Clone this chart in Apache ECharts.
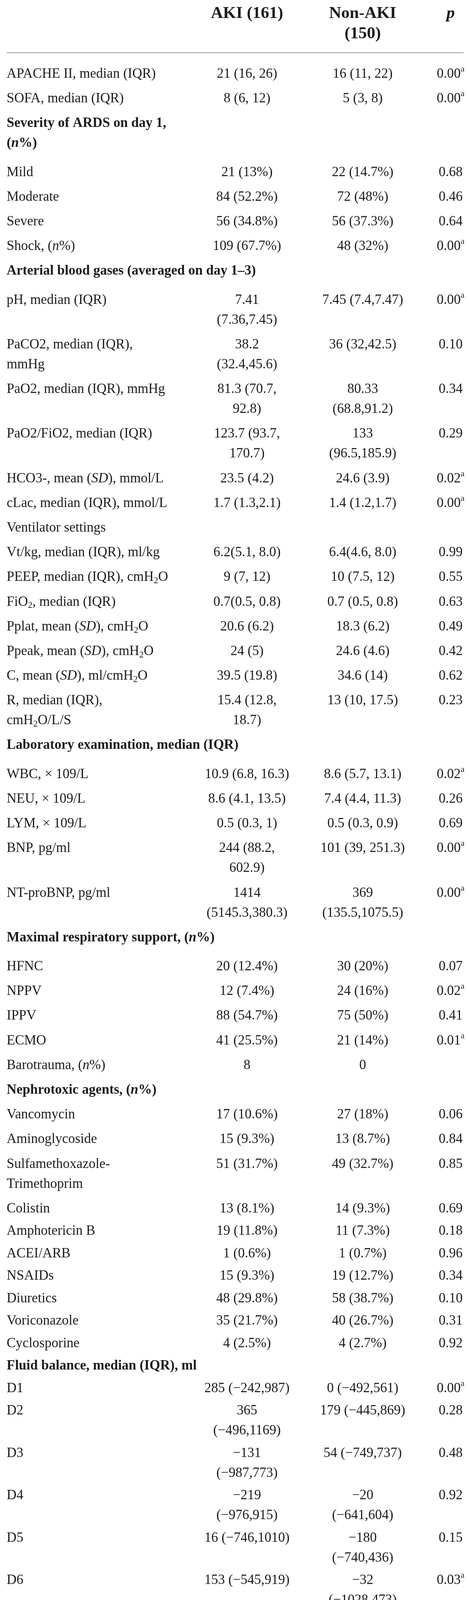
<!DOCTYPE html>
<html>
<head>
<meta charset="utf-8">
<title>AKI vs Non-AKI</title>
<script src="https://cdn.jsdelivr.net/npm/echarts@6/dist/echarts.min.js"></script>
<style>
html, body { margin: 0; padding: 0; background: #fff; }
#chart { width: 1200px; height: 4841px; }
</style>
</head>
<body>
<div id="chart"></div>
<script>
// markup in strings: *x* italic, ^a superscript, _2 subscript, ~a italic superscript
var headers = ['', 'AKI (161)', 'Non-AKI\n(150)', '*p*'];

var variables = [
    'APACHE II, median (IQR)',
    'SOFA, median (IQR)',
    'Severity of ARDS on day 1,\n(*n*%)',
    'Mild',
    'Moderate',
    'Severe',
    'Shock, (*n*%)',
    'Arterial blood gases (averaged on day 1–3)',
    'pH, median (IQR)',
    'PaCO2, median (IQR),\nmmHg',
    'PaO2, median (IQR), mmHg',
    'PaO2/FiO2, median (IQR)',
    'HCO3-, mean (*SD*), mmol/L',
    'cLac, median (IQR), mmol/L',
    'Ventilator settings',
    'Vt/kg, median (IQR), ml/kg',
    'PEEP, median (IQR), cmH_2O',
    'FiO_2, median (IQR)',
    'Pplat, mean (*SD*), cmH_2O',
    'Ppeak, mean (*SD*), cmH_2O',
    'C, mean (*SD*), ml/cmH_2O',
    'R, median (IQR),\ncmH_2O/L/S',
    'Laboratory examination, median (IQR)',
    'WBC, × 109/L',
    'NEU, × 109/L',
    'LYM, × 109/L',
    'BNP, pg/ml',
    'NT-proBNP, pg/ml',
    'Maximal respiratory support, (*n*%)',
    'HFNC',
    'NPPV',
    'IPPV',
    'ECMO',
    'Barotrauma, (*n*%)',
    'Nephrotoxic agents, (*n*%)',
    'Vancomycin',
    'Aminoglycoside',
    'Sulfamethoxazole-\nTrimethoprim',
    'Colistin',
    'Amphotericin B',
    'ACEI/ARB',
    'NSAIDs',
    'Diuretics',
    'Voriconazole',
    'Cyclosporine',
    'Fluid balance, median (IQR), ml',
    'D1', 'D2', 'D3', 'D4', 'D5', 'D6', 'D7',
    'CRRT, (*n*%)',
    'Onset of CRRT, days,\nmedian(IQR)'
];

var sectionTitles = [
    'Severity of ARDS on day 1,\n(*n*%)',
    'Arterial blood gases (averaged on day 1–3)',
    'Laboratory examination, median (IQR)',
    'Maximal respiratory support, (*n*%)',
    'Nephrotoxic agents, (*n*%)',
    'Fluid balance, median (IQR), ml'
];

var akiValues = [
    '21 (16, 26)', '8 (6, 12)', '', '21 (13%)', '84 (52.2%)', '56 (34.8%)', '109 (67.7%)', '',
    '7.41\n(7.36,7.45)', '38.2\n(32.4,45.6)', '81.3 (70.7,\n92.8)', '123.7 (93.7,\n170.7)',
    '23.5 (4.2)', '1.7 (1.3,2.1)', '',
    '6.2(5.1, 8.0)', '9 (7, 12)', '0.7(0.5, 0.8)', '20.6 (6.2)', '24 (5)', '39.5 (19.8)',
    '15.4 (12.8,\n18.7)', '',
    '10.9 (6.8, 16.3)', '8.6 (4.1, 13.5)', '0.5 (0.3, 1)', '244 (88.2,\n602.9)', '1414\n(5145.3,380.3)', '',
    '20 (12.4%)', '12 (7.4%)', '88 (54.7%)', '41 (25.5%)', '8', '',
    '17 (10.6%)', '15 (9.3%)', '51 (31.7%)', '13 (8.1%)', '19 (11.8%)', '1 (0.6%)', '15 (9.3%)',
    '48 (29.8%)', '35 (21.7%)', '4 (2.5%)', '',
    '285 (−242,987)', '365\n(−496,1169)', '−131\n(−987,773)', '−219\n(−976,915)',
    '16 (−746,1010)', '153 (−545,919)', '−20\n(−619,796)',
    '38 (23.6%)', '1(0,2.3)'
];

var nonAkiValues = [
    '16 (11, 22)', '5 (3, 8)', '', '22 (14.7%)', '72 (48%)', '56 (37.3%)', '48 (32%)', '',
    '7.45 (7.4,7.47)', '36 (32,42.5)', '80.33\n(68.8,91.2)', '133\n(96.5,185.9)',
    '24.6 (3.9)', '1.4 (1.2,1.7)', '',
    '6.4(4.6, 8.0)', '10 (7.5, 12)', '0.7 (0.5, 0.8)', '18.3 (6.2)', '24.6 (4.6)', '34.6 (14)',
    '13 (10, 17.5)', '',
    '8.6 (5.7, 13.1)', '7.4 (4.4, 11.3)', '0.5 (0.3, 0.9)', '101 (39, 251.3)', '369\n(135.5,1075.5)', '',
    '30 (20%)', '24 (16%)', '75 (50%)', '21 (14%)', '0', '',
    '27 (18%)', '13 (8.7%)', '49 (32.7%)', '14 (9.3%)', '11 (7.3%)', '1 (0.7%)', '19 (12.7%)',
    '58 (38.7%)', '40 (26.7%)', '4 (2.7%)', '',
    '0 (−492,561)', '179 (−445,869)', '54 (−749,737)', '−20\n(−641,604)',
    '−180\n(−740,436)', '−32\n(−1028,473)', '−95\n(−792,600)',
    '7 (4.6%)', '3(1,6)'
];

var pValues = [
    '0.00^a', '0.00^a', '', '0.68', '0.46', '0.64', '0.00^a', '',
    '0.00^a', '0.10', '0.34', '0.29', '0.02^a', '0.00^a', '',
    '0.99', '0.55', '0.63', '0.49', '0.42', '0.62', '0.23', '',
    '0.02^a', '0.26', '0.69', '0.00^a', '0.00^a', '',
    '0.07', '0.02^a', '0.41', '0.01^a', '', '',
    '0.06', '0.84', '0.85', '0.69', '0.18', '0.96', '0.34', '0.10', '0.31', '0.92', '',
    '0.00^a', '0.28', '0.48', '0.92', '0.15', '0.03^a', '0.15',
    '0.00^a', '0.06'
];

var notes = [
    'APACHE, acute physiology, age, chronic health evaluation; SOFA, sequential organ',
    'failure assessment; VT, tidal volume; PEEP, positive end- expiratory pressure;',
    'Pplat, plateau pressure values; Ppeak, peak inspiratory pressure; C, compliance; R,',
    'resistance; HFNC, high flow nasal cannula; IPPV, invasive positive pressure ventilation;',
    'NPPV, non- invasive positive pressure ventilation; EMCO, extracorporeal membrane',
    'oxygenation; ACEI, angiotensin-converting enzyme inhibitors; ARB, angiotensin',
    'receptor blocker; NSAIDs, non-steroidal antiinflammatory drugs; CRRT, continuous',
    'renal replacement therapy.',
    '~a*p* < 0.05.'
];

// layout
var FAMILY = '"Liberation Serif", "Times New Roman", serif';
var INK = '#1c1c1c';
var RULE = '#9c9c9c';
var BODY = 35, HEAD = 43, NOTE = 33;
var LINE = 51, HEAD_LINE = 52, NOTE_LINE = 45.4;
var colX = [17, 632, 928, 1153];
var HEAD_Y = 35, TOP_RULE = 135, FIRST_ROW_Y = 190;
var PITCH_UPPER = 63.2, PITCH_LOWER = 57.5, HEADING_EXTRA = 11;
var LABEL_COL_WIDTH = 440;
var NOTE_LEFT = 19, NOTE_RIGHT = 1190;
var RULE_LEFT = 17, RULE_RIGHT = 1186;

var measureCtx = document.createElement('canvas').getContext('2d');
function textWidth(s, size, weight) {
    measureCtx.font = (weight || 'normal') + ' ' + size + 'px ' + FAMILY;
    return measureCtx.measureText(s.replace(/[*^_~]/g, '')).width;
}

function richStyles(size, weight) {
    return {
        r: { fontSize: size, fontFamily: FAMILY, fontWeight: weight, fill: INK },
        i: { fontSize: size, fontFamily: FAMILY, fontWeight: weight, fontStyle: 'italic', fill: INK },
        sup: { fontSize: Math.round(size * 0.63), fontFamily: FAMILY, fill: INK, padding: [0, 0, Math.round(size * 0.72), 0] },
        supi: { fontSize: Math.round(size * 0.62), fontFamily: FAMILY, fontStyle: 'italic', fill: INK, padding: [0, 0, Math.round(size * 0.62), 0] },
        sub: { fontSize: Math.round(size * 0.65), fontFamily: FAMILY, fill: INK, padding: [Math.round(size * 0.5), 0, 0, 0] }
    };
}
var richBody = richStyles(BODY, 'normal');
var richBold = richStyles(BODY, 'bold');
var richHead = richStyles(HEAD, 'bold');
var richNote = richStyles(NOTE, 'normal');

function toRich(s) {
    var out = '';
    s.split(/(\*[^*]+\*|\^.|_.|~.)/).forEach(function (part) {
        if (!part) return;
        var ch = part.charAt(0);
        if (ch === '*' && part.length > 2) out += '{i|' + part.slice(1, -1) + '}';
        else if (ch === '^' && part.length === 2) out += '{sup|' + part.charAt(1) + '}';
        else if (ch === '~' && part.length === 2) out += '{supi|' + part.charAt(1) + '}';
        else if (ch === '_' && part.length === 2) out += '{sub|' + part.charAt(1) + '}';
        else out += '{r|' + part + '}';
    });
    return out;
}

function cellsOf(i) {
    return [variables[i], akiValues[i], nonAkiValues[i], pValues[i]];
}
function lineCount(i) {
    return Math.max.apply(null, cellsOf(i).map(function (c) { return c ? c.split('\n').length : 1; }));
}
function isSection(i) {
    return sectionTitles.indexOf(variables[i]) >= 0;
}

// row centre positions from the line counts
var splitRow = variables.indexOf('Colistin');
var rowY = [];
variables.forEach(function (v, i) {
    if (i === 0) { rowY.push(FIRST_ROW_Y); return; }
    var prev = i - 1;
    var step = (i <= splitRow ? PITCH_UPPER : PITCH_LOWER) + (lineCount(prev) - 1) * LINE;
    if (i <= splitRow && isSection(prev) && textWidth(variables[prev], BODY, 'bold') > LABEL_COL_WIDTH) {
        step += HEADING_EXTRA;
    }
    rowY.push(rowY[prev] + step);
});
var last = variables.length - 1;
var BOTTOM_RULE = rowY[last] + (lineCount(last) - 1) * LINE + 48;
var NOTE_Y = BOTTOM_RULE + 40;

function cellText(api, x, y, line, rich, align) {
    var pt = api.coord([x, y]);
    return {
        type: 'text',
        x: pt[0],
        y: pt[1],
        style: {
            text: toRich(line),
            rich: rich,
            align: align,
            verticalAlign: 'middle',
            fill: INK
        }
    };
}

function renderHeader(params, api) {
    var c = api.value(0);
    var children = [];
    if (headers[c]) {
        headers[c].split('\n').forEach(function (line, k) {
            children.push(cellText(api, colX[c], HEAD_Y + k * HEAD_LINE, line, richHead, 'center'));
        });
    }
    return { type: 'group', children: children };
}

function renderRow(params, api) {
    var i = api.value(0);
    var children = [];
    cellsOf(i).forEach(function (cell, c) {
        if (!cell) return;
        var rich = (c === 0 && isSection(i)) ? richBold : richBody;
        cell.split('\n').forEach(function (line, k) {
            children.push(cellText(api, colX[c], rowY[i] + k * LINE, line, rich, c === 0 ? 'left' : 'center'));
        });
    });
    return { type: 'group', children: children };
}

function renderNote(params, api) {
    var i = api.value(0);
    var text = notes[i];
    var y = NOTE_Y + i * NOTE_LINE;
    var box = NOTE_RIGHT - NOTE_LEFT;
    var natural = textWidth(text, NOTE);
    if (natural < box * 0.85) {
        return { type: 'group', children: [cellText(api, NOTE_LEFT, y, text, richNote, 'left')] };
    }
    // justified line
    var words = text.split(' ');
    var widths = words.map(function (w) { return textWidth(w, NOTE); });
    var total = widths.reduce(function (a, b) { return a + b; }, 0);
    var gap = (box - total) / (words.length - 1);
    var x = NOTE_LEFT;
    var children = words.map(function (w, k) {
        var el = cellText(api, x, y, w, richNote, 'left');
        x += widths[k] + gap;
        return el;
    });
    return { type: 'group', children: children };
}

var myChart = echarts.init(document.getElementById('chart'));

var option = {
    backgroundColor: '#ffffff',
    animation: false,
    grid: { left: 0, right: 0, top: 0, bottom: 0 },
    xAxis: { type: 'value', min: 0, max: 1200, show: false },
    yAxis: { type: 'value', min: 0, max: 4841, inverse: true, show: false },
    series: [
        {
            name: 'rules',
            type: 'line',
            symbol: 'none',
            silent: true,
            lineStyle: { color: RULE, width: 2 },
            data: [[RULE_LEFT, TOP_RULE], [RULE_RIGHT, TOP_RULE]]
        },
        {
            name: 'rules-bottom',
            type: 'line',
            symbol: 'none',
            silent: true,
            lineStyle: { color: RULE, width: 2 },
            data: [[RULE_LEFT, BOTTOM_RULE], [RULE_RIGHT, BOTTOM_RULE]]
        },
        {
            name: 'header',
            type: 'custom',
            silent: true,
            renderItem: renderHeader,
            data: headers.map(function (h, c) { return [c, HEAD_Y]; })
        },
        {
            name: 'rows',
            type: 'custom',
            silent: true,
            renderItem: renderRow,
            data: variables.map(function (v, i) { return [i, rowY[i]]; })
        },
        {
            name: 'notes',
            type: 'custom',
            silent: true,
            renderItem: renderNote,
            data: notes.map(function (n, i) { return [i, NOTE_Y + i * NOTE_LINE]; })
        }
    ]
};

myChart.setOption(option);
</script>
</body>
</html>
